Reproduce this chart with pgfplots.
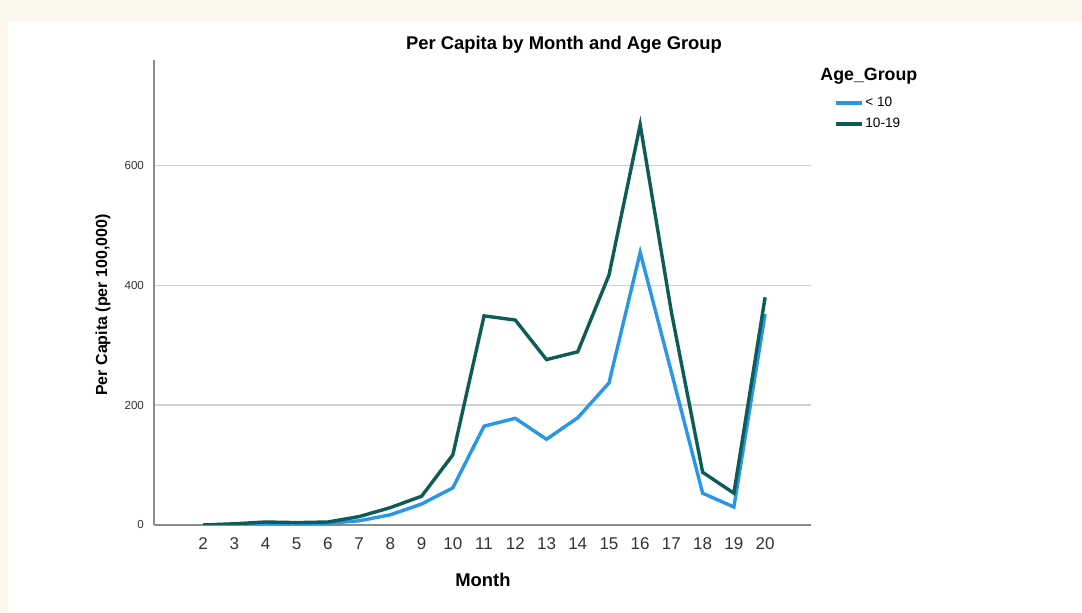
\documentclass[border=0pt]{standalone}
\usepackage{fontspec}
\setmainfont{Liberation Sans}
\usepackage{pgfplots}
\pgfplotsset{compat=1.18}
\definecolor{cream}{RGB}{253,248,236}
\definecolor{lblue}{RGB}{42,150,230}
\definecolor{dteal}{RGB}{14,92,87}
\begin{document}
\begin{tikzpicture}
\useasboundingbox (0,0) rectangle (541pt,306.5pt);
\fill[cream] (0,0) rectangle (541pt,306.5pt);
\fill[white] (4pt,0) rectangle (541pt,296pt);
\node[font=\bfseries\fontsize{9.2}{11}\selectfont, inner sep=0] at (282pt,284pt) {Per Capita by Month and Age Group};
\node[font=\bfseries\fontsize{8}{10}\selectfont, inner sep=0, rotate=90] at (51.5pt,154pt) {Per Capita (per 100,000)};
\node[font=\bfseries\fontsize{9.2}{11}\selectfont, inner sep=0] at (241.5pt,16.5pt) {Month};
\node[font=\bfseries\fontsize{8.9}{11}\selectfont, inner sep=0, anchor=west] at (410pt,268.5pt) {Age\_Group};
\begin{axis}[
  at={(77pt,44pt)}, anchor=south west,
  scale only axis, width=328.5pt, height=232.5pt,
  xmin=0.43, xmax=21.47, ymin=0, ymax=776,
  axis lines=left,
  axis line style={-, draw=black!45, line width=0.6pt},
  xtick={2,...,20}, ytick={0,200,400,600},
  major tick length=0pt,
  ymajorgrids,
  grid style={line width=0.7pt, color=black!18},
  /pgf/number format/assume math mode=true,
  x tick label style={font=\fontsize{8.5}{10}\selectfont, text=black!80, yshift=-3pt},
  y tick label style={font=\fontsize{5.8}{7}\selectfont, text=black!80, xshift=-1.5pt},
  legend style={at={(axis description cs:1.035,0.925)}, anchor=north west,
    draw=none, fill=none, inner sep=0pt, outer sep=0pt,
    nodes={inner sep=1pt, text height=5pt, text depth=1pt, font=\fontsize{6.8}{8}\selectfont},
    row sep=2.5pt},
  legend cell align=left,
  legend image code/.code={\draw[#1] (0pt,0pt) -- (13pt,0pt);},
]
\addplot[lblue, line width=1.7pt] coordinates {
(2,0) (3,1) (4,2) (5,2) (6,3) (7,7) (8,17) (9,35) (10,62)
(11,165) (12,178) (13,143) (14,179) (15,237) (16,455) (17,255)
(18,53) (19,30) (20,352)};
\addlegendentry{\textless\ 10}
\addplot[dteal, line width=1.7pt] coordinates {
(2,0) (3,2) (4,5) (5,4) (6,5) (7,14) (8,29) (9,48) (10,117)
(11,349) (12,342) (13,276) (14,289) (15,417) (16,668) (17,355)
(18,88) (19,53) (20,380)};
\addlegendentry{10-19}
\end{axis}
\end{tikzpicture}
\end{document}
